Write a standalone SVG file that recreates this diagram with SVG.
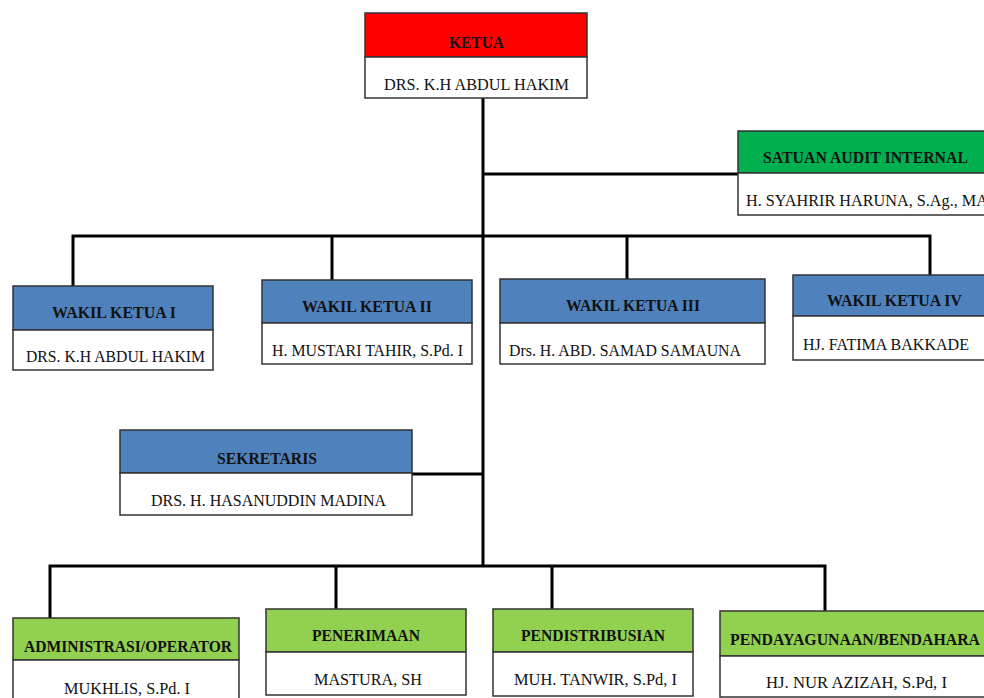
<svg xmlns="http://www.w3.org/2000/svg" width="984" height="698" viewBox="0 0 984 698">
<style>
.box{stroke:#333;stroke-width:1.5}
.hd{font-family:"Liberation Serif","Times New Roman",serif;font-weight:bold;font-size:17.5px;fill:#111}
.nm{font-family:"Liberation Serif","Times New Roman",serif;font-size:17.5px;fill:#111}
.red{fill:#FF0000}.grn{fill:#00B050}.blu{fill:#4F81BD}.lg{fill:#92D050}.wh{fill:#fff}
.ln{stroke:#000;stroke-width:3;fill:none}
</style>
<rect width="984" height="698" fill="#fff"/>
<g id="connectors">
<path class="ln" d="M483 98V566"/>
<path class="ln" d="M483 174H738"/>
<path class="ln" d="M73 286V236H930V275"/>
<path class="ln" d="M332 236V280M627 236V279"/>
<path class="ln" d="M412 474H483"/>
<path class="ln" d="M50 618V566H825V611"/>
<path class="ln" d="M336 566V609M552 566V609"/>
</g>
<g id="ketua">
<rect class="box red" x="365" y="13" width="222" height="44"/>
<rect class="box wh" x="365" y="57" width="222" height="41"/>
<text class="hd" x="449" y="48" textLength="55" lengthAdjust="spacingAndGlyphs">KETUA</text>
<text class="nm" x="384" y="90" textLength="185" lengthAdjust="spacingAndGlyphs">DRS. K.H ABDUL HAKIM</text>
</g>
<g id="audit">
<rect class="box grn" x="738" y="131" width="250" height="42"/>
<rect class="box wh" x="738" y="173" width="250" height="42"/>
<text class="hd" x="763" y="163" textLength="205" lengthAdjust="spacingAndGlyphs">SATUAN AUDIT INTERNAL</text>
<text class="nm" x="746" y="206" textLength="242" lengthAdjust="spacingAndGlyphs">H. SYAHRIR HARUNA, S.Ag., MA</text>
</g>
<g id="wakil1">
<rect class="box blu" x="13" y="286" width="200" height="44"/>
<rect class="box wh" x="13" y="330" width="200" height="40"/>
<text class="hd" x="52" y="318" textLength="124" lengthAdjust="spacingAndGlyphs">WAKIL KETUA I</text>
<text class="nm" x="26" y="362" textLength="179" lengthAdjust="spacingAndGlyphs">DRS. K.H ABDUL HAKIM</text>
</g>
<g id="wakil2">
<rect class="box blu" x="262" y="280" width="210" height="43"/>
<rect class="box wh" x="262" y="323" width="210" height="41"/>
<text class="hd" x="302" y="312" textLength="130" lengthAdjust="spacingAndGlyphs">WAKIL KETUA II</text>
<text class="nm" x="272" y="356" textLength="191" lengthAdjust="spacingAndGlyphs">H. MUSTARI TAHIR, S.Pd. I</text>
</g>
<g id="wakil3">
<rect class="box blu" x="500" y="279" width="265" height="44"/>
<rect class="box wh" x="500" y="323" width="265" height="41"/>
<text class="hd" x="566" y="311" textLength="134" lengthAdjust="spacingAndGlyphs">WAKIL KETUA III</text>
<text class="nm" x="509" y="356" textLength="232" lengthAdjust="spacingAndGlyphs">Drs. H. ABD. SAMAD SAMAUNA</text>
</g>
<g id="wakil4">
<rect class="box blu" x="793" y="275" width="195" height="41"/>
<rect class="box wh" x="793" y="316" width="195" height="44"/>
<text class="hd" x="827" y="306" textLength="135" lengthAdjust="spacingAndGlyphs">WAKIL KETUA IV</text>
<text class="nm" x="803" y="350" textLength="166" lengthAdjust="spacingAndGlyphs">HJ. FATIMA BAKKADE</text>
</g>
<g id="sekretaris">
<rect class="box blu" x="120" y="430" width="292" height="43"/>
<rect class="box wh" x="120" y="473" width="292" height="42"/>
<text class="hd" x="217" y="464" textLength="100" lengthAdjust="spacingAndGlyphs">SEKRETARIS</text>
<text class="nm" x="151" y="506" textLength="235" lengthAdjust="spacingAndGlyphs">DRS. H. HASANUDDIN MADINA</text>
</g>
<g id="administrasi">
<rect class="box lg" x="13" y="618" width="226" height="42"/>
<rect class="box wh" x="13" y="660" width="226" height="42"/>
<text class="hd" x="24" y="652" textLength="208" lengthAdjust="spacingAndGlyphs">ADMINISTRASI/OPERATOR</text>
<text class="nm" x="64" y="694" textLength="126" lengthAdjust="spacingAndGlyphs">MUKHLIS, S.Pd. I</text>
</g>
<g id="penerimaan">
<rect class="box lg" x="266" y="609" width="200" height="43"/>
<rect class="box wh" x="266" y="652" width="200" height="43"/>
<text class="hd" x="312" y="641" textLength="108" lengthAdjust="spacingAndGlyphs">PENERIMAAN</text>
<text class="nm" x="314" y="685" textLength="108" lengthAdjust="spacingAndGlyphs">MASTURA, SH</text>
</g>
<g id="pendistribusian">
<rect class="box lg" x="493" y="609" width="200" height="43"/>
<rect class="box wh" x="493" y="652" width="200" height="44"/>
<text class="hd" x="521" y="641" textLength="144" lengthAdjust="spacingAndGlyphs">PENDISTRIBUSIAN</text>
<text class="nm" x="514" y="685" textLength="163" lengthAdjust="spacingAndGlyphs">MUH. TANWIR, S.Pd, I</text>
</g>
<g id="pendayagunaan">
<rect class="box lg" x="720" y="611" width="268" height="45"/>
<rect class="box wh" x="720" y="656" width="268" height="41"/>
<text class="hd" x="730" y="645" textLength="250" lengthAdjust="spacingAndGlyphs">PENDAYAGUNAAN/BENDAHARA</text>
<text class="nm" x="766" y="688" textLength="181" lengthAdjust="spacingAndGlyphs">HJ. NUR AZIZAH, S.Pd, I</text>
</g>
</svg>
